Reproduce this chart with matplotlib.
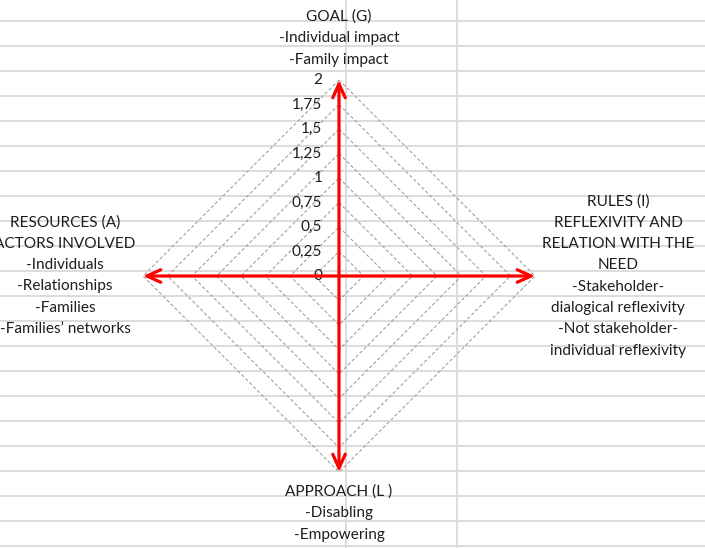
import numpy as np
import matplotlib
matplotlib.use("Agg")
import matplotlib.pyplot as plt

# ---- chart values -------------------------------------------------------
axis_max = 2.0
levels = [0.25, 0.5, 0.75, 1.0, 1.25, 1.5, 1.75, 2.0]
tick_values = [0, 0.25, 0.5, 0.75, 1.0, 1.25, 1.5, 1.75, 2.0]
tick_labels = ["0", "0,25", "0,5", "0,75", "1", "1,25", "1,5", "1,75", "2"]
axis_angles = [90, 0, 270, 180]          # goal, rules, approach, resources

goal_lines = ["GOAL (G)", "-Individual impact", "-Family impact"]
rules_lines = ["RULES (I)", "REFLEXIVITY AND", "RELATION WITH THE", "NEED",
               "-Stakeholder-", "dialogical reflexivity",
               "-Not stakeholder-", "individual reflexivity"]
approach_lines = ["APPROACH (L )", "-Disabling", "-Empowering"]
resources_lines = ["RESOURCES (A)", "ACTORS INVOLVED", "-Individuals",
                   "-Relationships", "-Families", "-Families\u2019 networks"]

# ---- layout (pixels of the 705x548 canvas) -------------------------------
W, H = 705, 548
CX, CY = 339, 276          # chart centre
PX_PER_UNIT = 98           # radius 2 -> 196 px
PAD = 2.6
LINE_STEP = 21.3
FONT = ["Lato", "DejaVu Sans"]
FS = 11.1
TXT = "#1e1e1e"

fig = plt.figure(figsize=(W / 100, H / 100), dpi=100)

# spreadsheet background
bg = fig.add_axes([0, 0, 1, 1])
bg.set_xlim(0, W); bg.set_ylim(H, 0); bg.axis("off")
for y in np.arange(21.3, H, 25):
    bg.axhline(y, color="#dcdcdc", lw=1.4, zorder=0)
for x in [346, 457]:
    bg.axvline(x, color="#dcdcdc", lw=1.4, zorder=0)

# radar axes in value units
r = PAD * PX_PER_UNIT
ax = fig.add_axes([(CX - r) / W, (H - CY - r) / H, 2 * r / W, 2 * r / H])
ax.set_xlim(-PAD, PAD); ax.set_ylim(-PAD, PAD)
ax.set_aspect("equal"); ax.axis("off"); ax.patch.set_alpha(0)

ang = np.radians(axis_angles + axis_angles[:1])
for lv in levels:
    ax.plot(lv * np.cos(ang), lv * np.sin(ang), color="#a0a0a0", lw=0.8,
            ls=(0, (3, 2)), zorder=1)

for a in axis_angles:
    t = np.radians(a)
    ax.annotate("", xy=(axis_max * np.cos(t), axis_max * np.sin(t)), xytext=(0, 0),
                arrowprops=dict(arrowstyle="->,head_length=1.0,head_width=0.45",
                                color="#ff0000", lw=2.3, shrinkA=0, shrinkB=0),
                zorder=3)

for v, lab in zip(tick_values, tick_labels):
    ax.text(-0.17, v, lab, ha="right", va="center", fontsize=FS,
            family=FONT, color=TXT, zorder=2)

# axis titles
def block(lines, x, y0):
    for i, s in enumerate(lines):
        bg.text(x, y0 + i * LINE_STEP, s, ha="center", va="center",
                fontsize=FS, family=FONT, color=TXT)

block(goal_lines, 339, 17)
block(rules_lines, 618, 201.5)
block(approach_lines, 339, 492)
block(resources_lines, 65, 222.5)

fig.savefig("out.png", dpi=100)
